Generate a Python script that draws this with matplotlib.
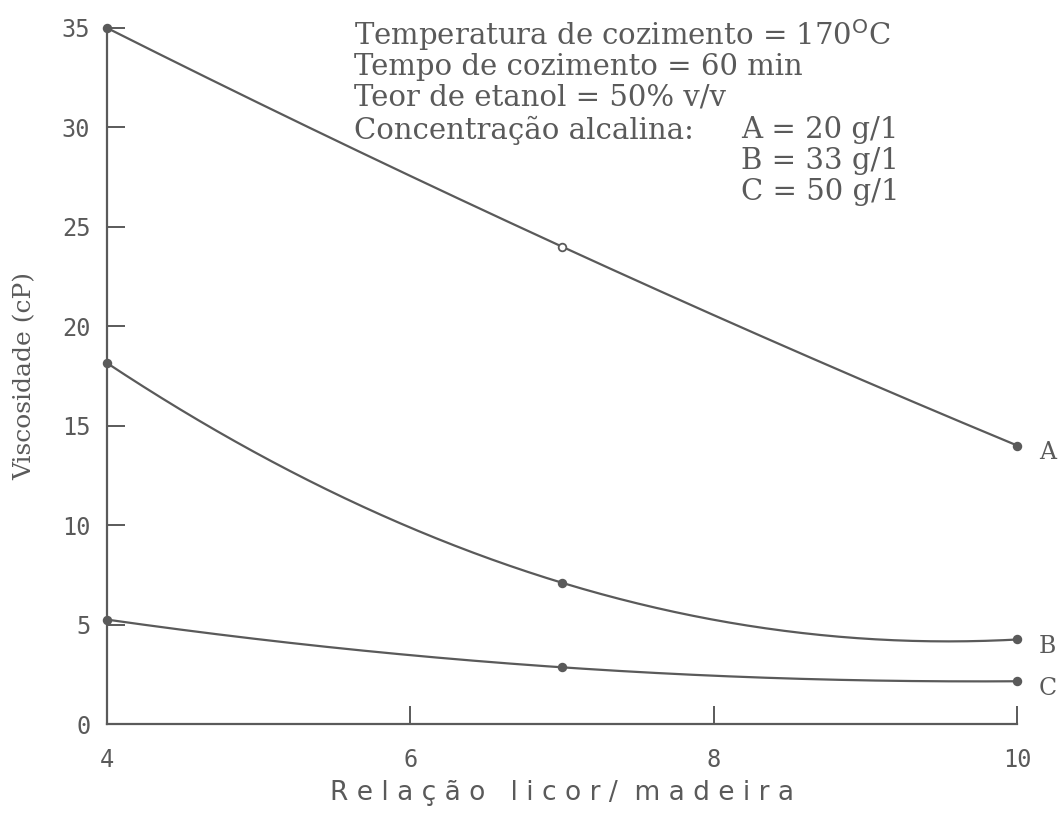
import numpy as np
import matplotlib
matplotlib.use("Agg")
import matplotlib.pyplot as plt

# relacao licor/madeira
razao = [4, 7, 10]
# viscosidade (cP) por concentracao alcalina
visc_a = [35.0, 24.0, 14.0]
visc_b = [18.15, 7.1, 4.25]
visc_c = [5.25, 2.85, 2.15]
curvas = ["A", "B", "C"]

info = [
    "Temperatura de cozimento = 170$^{\\mathrm{O}}$C",
    "Tempo de cozimento = 60 min",
    "Teor de etanol = 50% v/v",
    "Concentração alcalina:",
]
info_conc = ["A = 20 g/1", "B = 33 g/1", "C = 50 g/1"]

cor = "#5a5a5a"
serif = "DejaVu Serif"
mono = "DejaVu Sans Mono"

fig = plt.figure(figsize=(10.64, 8.18), dpi=100)
ax = fig.add_axes([0.1006, 0.1149, 0.8556, 0.8509])

xs = np.linspace(4, 10, 200)
for nome, ys in zip(curvas, [visc_a, visc_b, visc_c]):
    coef = np.polyfit(razao, ys, 2)
    ax.plot(xs, np.polyval(coef, xs), color=cor, lw=1.6, clip_on=False)
    for i, (x, y) in enumerate(zip(razao, ys)):
        oco = nome == "A" and i == 1
        ax.plot(x, y, "o", ms=5.5, clip_on=False,
                mfc="white" if oco else cor, mec=cor, mew=1.3)
    ax.text(10.14, ys[-1] - 0.35, nome, fontsize=17, family=serif,
            color=cor, va="center", ha="left")

ax.set_xlim(4, 10)
ax.set_ylim(0, 35)
ax.set_xticks([4, 6, 8, 10])
ax.set_yticks(range(0, 36, 5))
ax.spines[["top", "right"]].set_visible(False)
for s in ["left", "bottom"]:
    ax.spines[s].set_color(cor)
    ax.spines[s].set_linewidth(1.6)
ax.tick_params(direction="in", length=13, width=1.4, color=cor,
               labelcolor=cor, labelsize=17)
ax.tick_params(axis="y", pad=12)
ax.tick_params(axis="x", pad=17)
for lab in ax.get_xticklabels() + ax.get_yticklabels():
    lab.set_family(mono)

ax.set_xlabel("R e l a ç ã o   l i c o r /  m a d e i r a", family="DejaVu Sans",
              fontsize=19, color=cor, labelpad=6)
ax.set_ylabel("Viscosidade (cP)", family=serif, fontsize=18, color=cor,
              labelpad=18)

ys_info = [34.65, 33.04, 31.48, 29.87]
for txt, y in zip(info, ys_info):
    ax.text(5.63, y, txt, family=serif, fontsize=21, color=cor,
            va="center", ha="left")
for txt, y in zip(info_conc, [29.87, 28.31, 26.75]):
    ax.text(8.18, y, txt, family=serif, fontsize=21, color=cor,
            va="center", ha="left")

fig.savefig("out.png", dpi=100)
